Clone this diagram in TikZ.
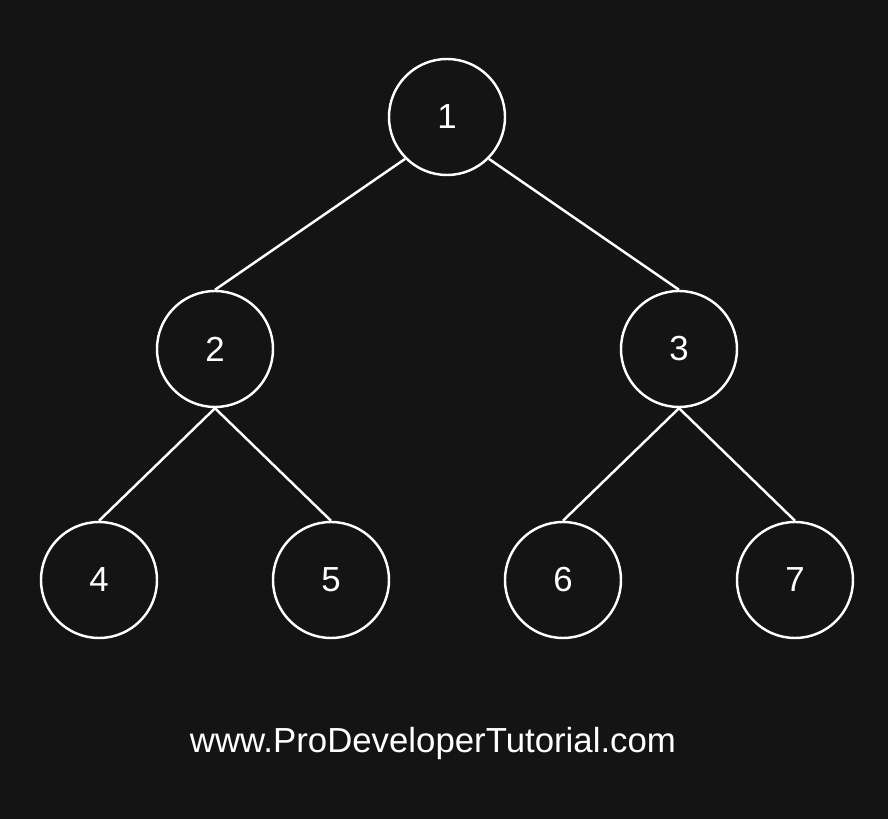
\documentclass[tikz,border=0pt]{standalone}
\usepackage{fontspec}
\setmainfont{Liberation Sans}
\usepackage{tikz}
\definecolor{bg}{RGB}{20,20,20}

\begin{document}
\begin{tikzpicture}
        \tikzstyle{every node} = [circle, draw=white, line width=0.7pt, minimum size=1.16cm, inner sep=0pt, text=white, font=\fontsize{9.9}{12}\selectfont]
        \fill[bg] (0,0) rectangle (8.88,8.19);
        \node (1) at (4.47,7.02) {1};
        \node (2) at (2.15,4.70) {2};
        \node (3) at (6.79,4.70) {3};
        \node (4) at (0.99,2.39) {4};
        \node (5) at (3.31,2.39) {5};
        \node (6) at (5.63,2.39) {6};
        \node (7) at (7.95,2.39) {7};
        \node[draw=none, rectangle, minimum size=0pt, anchor=base] (site) at (4.33,0.66) {www.ProDeveloperTutorial.com};

        \foreach \from/\a/\to in {1/south west/2, 1/south east/3, 2/south/4, 2/south/5, 3/south/6, 3/south/7}
            \draw[white, line width=0.7pt] (\from.\a) -- (\to.north);
      \end{tikzpicture}
\end{document}
